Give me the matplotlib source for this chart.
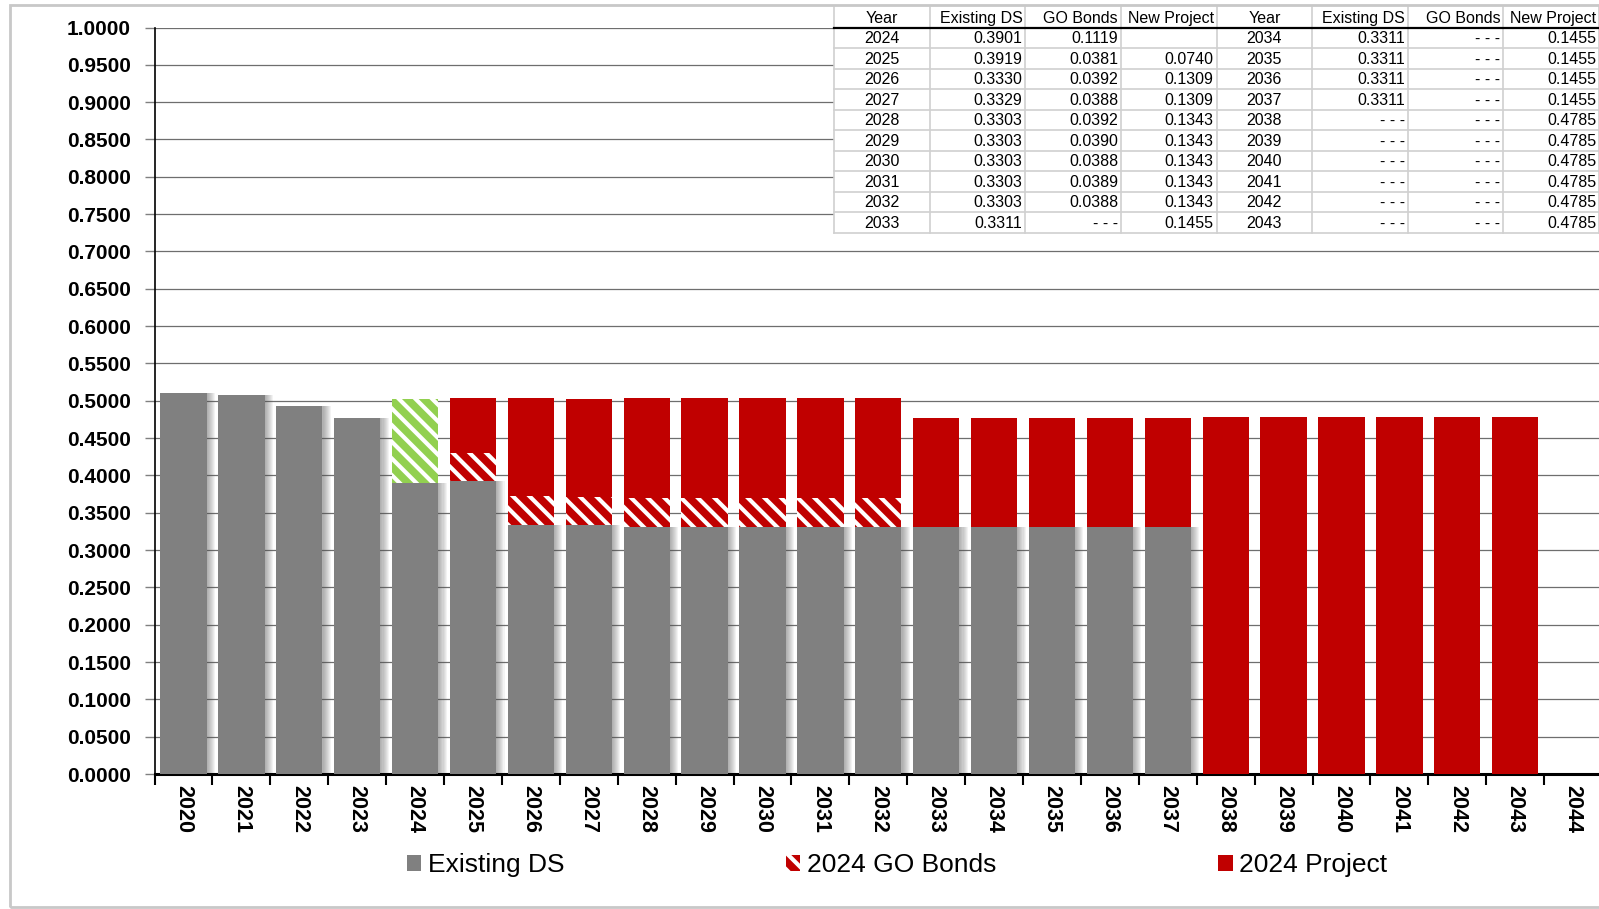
import numpy as np
import matplotlib.pyplot as plt
from matplotlib.patches import Rectangle

plt.rcParams['font.family'] = ['Liberation Sans', 'DejaVu Sans']
plt.rcParams['hatch.linewidth'] = 3.0

years = list(range(2020, 2045))
existing_ds = [0.5110, 0.5080, 0.4935, 0.4770, 0.3901, 0.3919, 0.3330, 0.3329,
               0.3303, 0.3303, 0.3303, 0.3303, 0.3303, 0.3311, 0.3311, 0.3311,
               0.3311, 0.3311, 0, 0, 0, 0, 0, 0, 0]
go_bonds = [0, 0, 0, 0, 0.1119, 0.0381, 0.0392, 0.0388, 0.0392, 0.0390, 0.0388,
            0.0389, 0.0388, 0, 0, 0, 0, 0, 0, 0, 0, 0, 0, 0, 0]
new_project = [0, 0, 0, 0, 0, 0.0740, 0.1309, 0.1309, 0.1343, 0.1343, 0.1343,
               0.1343, 0.1343, 0.1455, 0.1455, 0.1455, 0.1455, 0.1455, 0.4785,
               0.4785, 0.4785, 0.4785, 0.4785, 0.4785, 0]
table_years = list(range(2024, 2044))
legend_labels = ['Existing DS', '2024 GO Bonds', '2024 Project']

GRAY = '#808080'
RED = '#C00000'
GREEN = '#92D050'

fig = plt.figure(figsize=(15.99, 9.09), dpi=100)
ax = fig.add_axes([154.6 / 1599, 1 - 774 / 909, (1602 - 154.6) / 1599, (774 - 27.5) / 909])

x = np.arange(len(years))
ex = np.array(existing_ds)
go = np.array(go_bonds)
pr = np.array(new_project)
w = 0.8

# soft shadow on the right of the gray bars
for k in range(1, 9):
    ax.bar(x + 0.018 * k, ex, w, color='#555555', alpha=0.07, linewidth=0, zorder=2)

ax.bar(x, ex, w, color=GRAY, linewidth=0, zorder=3)
go_colors = [GREEN if y == 2024 else RED for y in years]
ax.bar(x, go, w, bottom=ex, color=go_colors, edgecolor='white', linewidth=0,
       hatch='\\\\', zorder=3)
ax.bar(x, pr, w, bottom=ex + go, color=RED, linewidth=0, zorder=3)

ax.set_ylim(0, 1.0)
ax.set_xlim(-0.5, len(years) - 0.5)
ax.set_yticks(np.arange(0, 1.0001, 0.05))
ax.set_yticklabels([f'{v:.4f}' for v in np.arange(0, 1.0001, 0.05)],
                   fontsize=15, fontweight='bold')
ax.yaxis.grid(True, color='#6E6E6E', linewidth=0.9, zorder=0)
ax.set_axisbelow(True)
ax.tick_params(axis='y', length=7, width=1, pad=10, color='#808080')

ax.set_xticks(x)
ax.set_xticklabels([str(y) for y in years], rotation=270, fontsize=15.5,
                   fontweight='bold')
ax.set_xticks(np.arange(-0.5, len(years)), minor=True)
ax.tick_params(axis='x', which='major', length=0, pad=8)
ax.tick_params(axis='x', which='minor', length=8, width=1.5)

for side in ['top', 'right']:
    ax.spines[side].set_visible(False)
ax.spines['left'].set_linewidth(1.2)
ax.spines['bottom'].set_linewidth(2.2)

# legend
handles = [Rectangle((0, 0), 1, 1, facecolor=GRAY, linewidth=0),
           Rectangle((0, 0), 1, 1, facecolor=RED, edgecolor='white', linewidth=0, hatch='\\\\'),
           Rectangle((0, 0), 1, 1, facecolor=RED, linewidth=0)]
fig.legend(handles, legend_labels, loc='center', bbox_to_anchor=(0.561, 1 - 865 / 909),
           ncol=3, frameon=False, fontsize=19, handlelength=0.55, handleheight=0.55,
           handletextpad=0.25, columnspacing=8.4)

# value table in the upper right
tab = fig.add_axes([834 / 1599, 1 - 232.6 / 909, (1599 - 834) / 1599, (232.6 - 7.1) / 909])
tab.set_xlim(0, 8)
tab.set_ylim(11, 0)
tab.axis('off')
tab.add_patch(Rectangle((0, 0), 8, 11, facecolor='white', edgecolor='none'))


def fmt(v, blank=False):
    if v == 0:
        return '' if blank else '- - -'
    return f'{v:.4f}'


header = ['Year', 'Existing DS', 'GO Bonds', 'New Project']
half = len(table_years) // 2
for block in range(2):
    c0 = block * 4
    for j, h in enumerate(header):
        if j == 0:
            tab.text(c0 + j + 0.5, 0.55, h, ha='center', va='center', fontsize=11.5)
        else:
            tab.text(c0 + j + 0.97, 0.55, h, ha='right', va='center', fontsize=11.5)
    for i in range(half):
        yr = table_years[block * half + i]
        idx = years.index(yr)
        row = i + 1.55
        tab.text(c0 + 0.5, row, str(yr), ha='center', va='center', fontsize=11.5)
        tab.text(c0 + 1.97, row, fmt(existing_ds[idx]), ha='right', va='center', fontsize=11.5)
        tab.text(c0 + 2.97, row, fmt(go_bonds[idx]), ha='right', va='center', fontsize=11.5)
        tab.text(c0 + 3.97, row, fmt(new_project[idx], blank=True), ha='right', va='center',
                 fontsize=11.5)

for r in range(2, 12):
    tab.plot([0, 8], [r, r], color='#D0D0D0', linewidth=1.2, clip_on=False)
for c in range(0, 9):
    tab.plot([c, c], [0, 11], color='#D0D0D0', linewidth=1.2, clip_on=False)
tab.plot([0, 8], [1, 1], color='black', linewidth=1.6, clip_on=False)

# light frame around the whole chart
fig.patches.append(Rectangle((10 / 1599, 1 - 907 / 909), 1.0, 902 / 909,
                             transform=fig.transFigure, fill=False,
                             edgecolor='#C8C8C8', linewidth=2))

fig.savefig('out.png', dpi=100)
